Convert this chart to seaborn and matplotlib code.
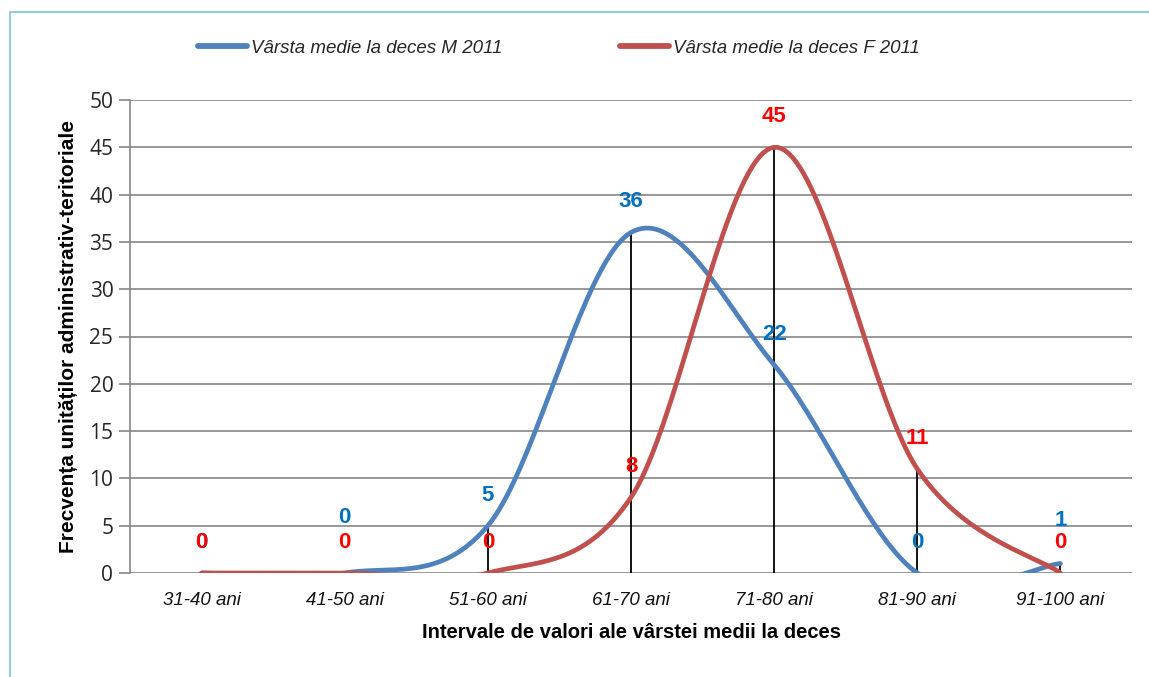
import matplotlib
matplotlib.use("Agg")
import matplotlib.pyplot as plt
import numpy as np
import pandas as pd
import seaborn as sns

# data
categories = ['31-40 ani', '41-50 ani', '51-60 ani', '61-70 ani',
              '71-80 ani', '81-90 ani', '91-100 ani']
male = [0, 0, 5, 36, 22, 0, 1]
female = [0, 0, 0, 8, 45, 11, 0]
yticks = [0, 5, 10, 15, 20, 25, 30, 35, 40, 45, 50]
label_m = 'Vârsta medie la deces M 2011'
label_f = 'Vârsta medie la deces F 2011'


def smooth(values, n=40):
    # Excel-like smoothed line: Bezier segments with Catmull-Rom control points
    pts = np.column_stack([np.arange(len(values), dtype=float), np.asarray(values, dtype=float)])
    ext = np.vstack([pts[:1], pts, pts[-1:]])
    xs, ys = [], []
    t = np.linspace(0, 1, n)[:, None]
    for i in range(len(pts) - 1):
        p0, p3 = ext[i + 1], ext[i + 2]
        p1 = p0 + (ext[i + 2] - ext[i]) / 6
        p2 = p3 - (ext[i + 3] - ext[i + 1]) / 6
        b = ((1 - t) ** 3) * p0 + 3 * ((1 - t) ** 2) * t * p1 + 3 * (1 - t) * t ** 2 * p2 + t ** 3 * p3
        xs.extend(b[:, 0])
        ys.extend(b[:, 1])
    return pd.DataFrame({'x': xs, 'y': ys})


sns.set_style('white')
plt.rcParams['font.family'] = ['Liberation Sans Narrow', 'Liberation Sans', 'DejaVu Sans']

fig = plt.figure(figsize=(11.49, 6.77), dpi=100)
ax = fig.add_axes([130 / 1149, 1 - 573 / 677, 1002 / 1149, 473 / 677])

blue = '#4F81BD'
red = '#C0504D'

# drop lines
x_idx = np.arange(len(categories))
tops = np.maximum(male, female)
ax.vlines(x_idx, 0, tops, color='black', linewidth=1.3, zorder=2)

sm = smooth(male)
sf = smooth(female)
sns.lineplot(data=sm, x='x', y='y', sort=False, estimator=None, color=blue,
             linewidth=3.4, ax=ax, label=label_m, zorder=3)
sns.lineplot(data=sf, x='x', y='y', sort=False, estimator=None, color=red,
             linewidth=3.4, ax=ax, label=label_f, zorder=3)
for ln in ax.lines:
    ln.set_solid_capstyle('round')

ax.set_xlim(-0.5, len(categories) - 0.5)
ax.set_ylim(0, 50)
ax.set_yticks(yticks)
ax.set_yticklabels([str(v) for v in yticks], fontsize=15, family='Open Sans')
ax.set_xticks(x_idx)
ax.set_xticklabels(categories, fontsize=13.5, style='italic', color='#111111')
ax.tick_params(axis='y', length=8, color='#868686', width=1.2, pad=4, left=True)
ax.tick_params(axis='x', length=0, pad=14)

ax.grid(axis='y', color='#868686', linewidth=1.2)
ax.set_axisbelow(True)
for side in ['top', 'right', 'bottom']:
    ax.spines[side].set_visible(False)
ax.spines['left'].set_color('#868686')
ax.spines['left'].set_linewidth(1.2)

ax.set_xlabel('Intervale de valori ale vârstei medii la deces', fontsize=14.5,
              fontweight='bold', labelpad=10, color='black')
ax.set_ylabel('Frecvența unităților administrativ-teritoriale', fontsize=15,
              fontweight='bold', labelpad=8, color='black')

# data labels (label offsets in points, a few nudged to avoid collisions)
special = {('m', 1): 40, ('m', 6): 31}
for i, v in enumerate(male):
    off = special.get(('m', i), 22)
    ax.annotate(str(v), (i, v), xytext=(0, off), textcoords='offset points',
                ha='center', va='center', color='#0070C0', fontsize=16,
                fontweight='bold', zorder=5)
for i, v in enumerate(female):
    off = special.get(('f', i), 22)
    ax.annotate(str(v), (i, v), xytext=(0, off), textcoords='offset points',
                ha='center', va='center', color='#FF0000', fontsize=16,
                fontweight='bold', zorder=6)

ax.legend_.remove()
h, l = ax.get_legend_handles_labels()
leg = fig.legend(h, l, loc='center', bbox_to_anchor=(559 / 1149, 1 - 48 / 677), ncol=2,
                 frameon=False, prop={'style': 'italic', 'size': 13.5}, handlelength=2.6,
                 handletextpad=0.2, columnspacing=6.3)
for lh in leg.get_lines():
    lh.set_linewidth(4.2)

# outer frame (light blue)
fig.add_artist(plt.Line2D([10 / 1149, 10 / 1149], [0, 1 - 12 / 677], color='#92CDDC',
                          linewidth=1.5, transform=fig.transFigure))
fig.add_artist(plt.Line2D([10 / 1149, 1], [1 - 12 / 677, 1 - 12 / 677], color='#92CDDC',
                          linewidth=1.5, transform=fig.transFigure))

fig.savefig('out.png', dpi=100)
